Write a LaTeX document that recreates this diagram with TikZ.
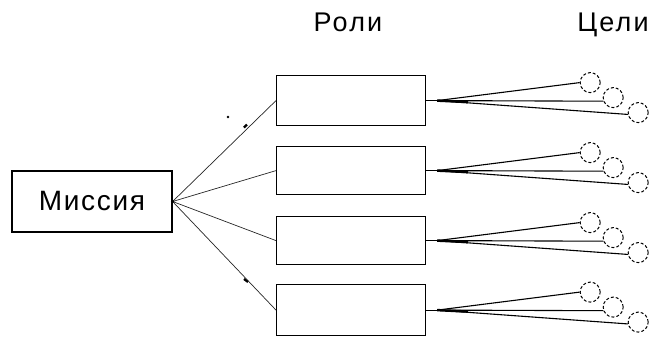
\documentclass[tikz,border=0pt]{standalone}
\usepackage{fontspec}
\setmainfont{Liberation Sans}
\begin{document}
\begin{tikzpicture}[x=1pt,y=-1pt,
  boxst/.style={draw,line width=1.2pt,minimum width=149pt,minimum height=49pt,inner sep=0pt,anchor=north west},
  goal/.style={draw,circle,densely dashed,line width=1pt,minimum size=20pt,inner sep=0pt},
  mline/.style={line width=0.7pt,black!85},
  gline/.style={line width=1.1pt},
  ttl/.style={font=\fontsize{27}{29}\selectfont\addfontfeature{LetterSpace=8},anchor=base}]
\useasboundingbox (0,0) rectangle (657,338);
\node[ttl] (tr) at (348,31) {Роли};
\node[ttl] (tc) at (613,31) {Цели};
\node[draw,line width=1.2pt,minimum width=160pt,minimum height=61pt,inner sep=0pt,
  font=\fontsize{28}{30}\selectfont\addfontfeature{LetterSpace=6}] (m) at (92,201.5) {Миссия};
\node[boxst,minimum height=50pt] (r1) at (276,75) {};
\node[boxst,minimum height=48pt] (r2) at (276,146) {};
\node[boxst,minimum height=48pt] (r3) at (276,216) {};
\node[boxst,minimum height=51pt] (r4) at (276,284) {};
\foreach \i in {1,2,3,4}{
  \draw[mline] (m.east) -- (r\i.west);
  \path (r\i.east) ++(11,0) coordinate (f\i);
  \path (r\i.east) ++(164,-18) node[goal] (g\i a) {};
  \path (r\i.east) ++(187,-3) node[goal] (g\i b) {};
  \path (r\i.east) ++(212,12) node[goal] (g\i c) {};
  \draw[gline] (r\i.east) -- (f\i);
  \draw[gline] (f\i) -- (g\i a.west);
  \draw[gline] (f\i) -- (g\i b.200);
  \draw[gline] (f\i) -- (g\i c.190);
  \draw[line width=2.5pt] (f\i) -- ++(31,1.5);
}
\fill (m.east) circle (1.8);
\fill (228,117) circle (1.4);
\draw[line width=2.2pt] (244,127.5) -- (247,124.5);
\draw[line width=2.2pt] (244,279) -- (248,282);
\end{tikzpicture}
\end{document}
